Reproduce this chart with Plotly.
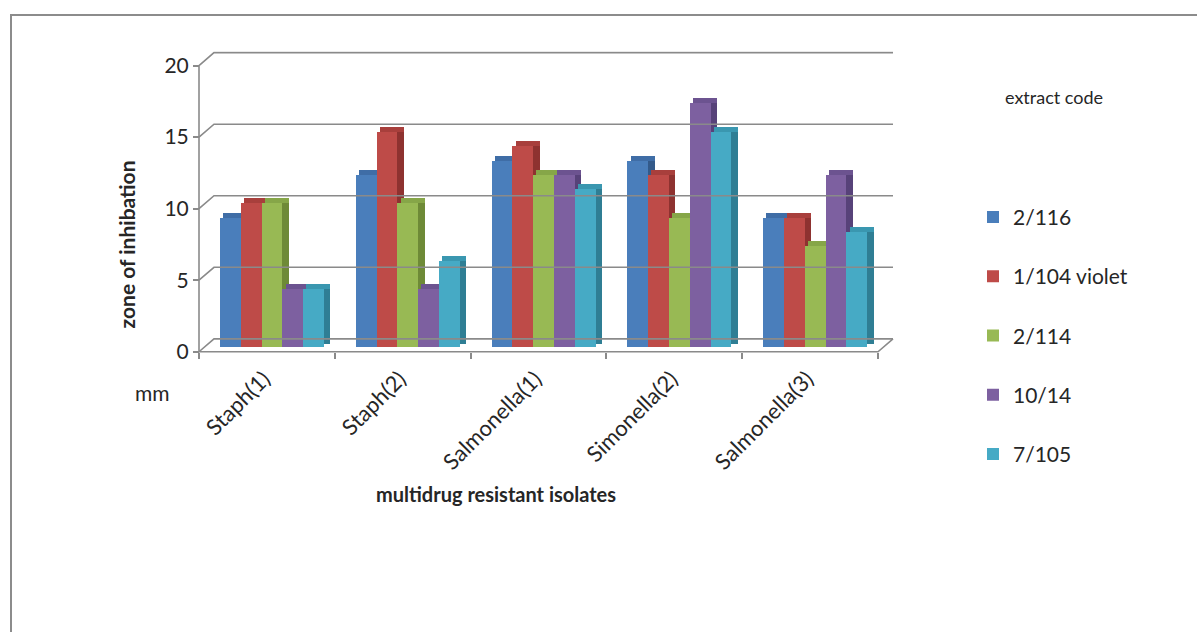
import plotly.graph_objects as go

# ---- data ----
categories = ["Staph(1)", "Staph(2)", "Salmonella(1)", "Simonella(2)", "Salmonella(3)"]
series_names = ["2/116", "1/104 violet", "2/114", "10/14", "7/105"]
s_2_116 = [9, 12, 13, 13, 9]
s_1_104 = [10, 15, 14, 12, 9]
s_2_114 = [10, 10, 12, 9, 7]
s_10_14 = [4, 4, 12, 17, 12]
s_7_105 = [4, 6, 11, 15, 8]
y_ticks = [0, 5, 10, 15, 20]

series_values = [s_2_116, s_1_104, s_2_114, s_10_14, s_7_105]
front_cols = ["#4A7EBB", "#BE4B48", "#98B954", "#7D60A0", "#46AAC5"]
top_cols = ["#3F6DA6", "#A83F3C", "#86A648", "#6C5390", "#3A97B0"]
side_cols = ["#335A8A", "#8E3230", "#6E8A37", "#574279", "#2F7E94"]

W, H = 1197, 632
FONT = "Lato"
GRID = "#8a8a8a"
TXT = "#262626"

# pixel geometry of the front plane
PX_X0, PX_X1 = 199, 878      # front left / right edges of the category range
PX_Y0, UY = 354, 14.4        # pixel of value 0, pixels per unit
n = len(categories)
UX = (PX_X1 - PX_X0) / n

xr = [-0.6, n - 0.5 + 0.15]
yr = [-0.5, 21.0]
dom_x = [(PX_X0 + (xr[0] + 0.5) * UX) / W, (PX_X0 + (xr[1] + 0.5) * UX) / W]
dom_y = [1 - (PX_Y0 - yr[0] * UY) / H, 1 - (PX_Y0 - yr[1] * UY) / H]

# depth offsets (units)
DX, DY = 15 / UX, 13 / UY          # back wall offset
SX, SY = 5.8 / UX, 5.0 / UY        # bar row offset (mid depth)
BD, BDY = 6.5 / UX, 5.0 / UY       # bar 3D depth
BW = 20.8 / UX                     # bar front width
G0 = -52.3 / UX                    # group start relative to category centre

fig = go.Figure()

# walls and floor lines
left = -0.5
right = n - 0.5
lx, ly = [], []
for v in y_ticks:
    lx += [left, left + DX, right + DX, None]
    ly += [v, v + DY, v + DY, None]
lx += [left, left, None, left, right, right + DX, None]
ly += [0, y_ticks[-1], None, 0, 0, DY, None]
fig.add_trace(go.Scatter(x=lx, y=ly, mode="lines", line=dict(color=GRID, width=1.6),
                         showlegend=False, hoverinfo="skip"))

xs = list(range(n))
for i, (name, vals) in enumerate(zip(series_names, series_values)):
    off = G0 + i * BW + SX
    # side face
    fig.add_trace(go.Bar(x=xs, y=vals, base=[SY + BDY / 2] * n, offset=off + BW, width=BD,
                         marker=dict(color=side_cols[i], line=dict(width=0)),
                         showlegend=False, hoverinfo="skip"))
    # top face
    fig.add_trace(go.Bar(x=xs, y=[BDY] * n, base=[v + SY for v in vals], offset=off + BD / 2,
                         width=BW + BD / 2,
                         marker=dict(color=top_cols[i], line=dict(width=0)),
                         showlegend=False, hoverinfo="skip"))
    # front face
    fig.add_trace(go.Bar(x=xs, y=vals, base=[SY] * n, offset=off, width=BW, name=name,
                         legendgroup=name,
                         marker=dict(color=front_cols[i], line=dict(width=0))))

fig.update_layout(
    width=W, height=H, margin=dict(l=0, r=0, t=0, b=0),
    paper_bgcolor="white", plot_bgcolor="rgba(0,0,0,0)",
    barmode="overlay", bargap=0,
    font=dict(family=FONT, size=21, color=TXT),
    showlegend=True,
    legend=dict(x=973 / W, y=1 - 198 / H, xanchor="left", yanchor="top",
                font=dict(size=21, color=TXT), tracegroupgap=29,
                bgcolor="rgba(0,0,0,0)", itemwidth=30),
    xaxis=dict(domain=dom_x, range=xr, showgrid=False, zeroline=False, showline=False,
               tickmode="array", tickvals=xs, ticktext=categories, tickangle=-45,
               ticks="", anchor="free", position=1 - PX_Y0 / H,
               ticklabelshift=-3, ticklabelstandoff=9,
               tickfont=dict(size=22, family=FONT, color=TXT),
               minor=dict(tickvals=[k - 0.5 for k in range(n + 1)], ticks="outside",
                          ticklen=6, tickcolor=GRID, tickwidth=1.5, showgrid=False)),
    yaxis=dict(domain=dom_y, range=yr, showgrid=False, zeroline=False, showline=False,
               tickmode="array", tickvals=y_ticks, ticks="outside", ticklen=6,
               tickcolor=GRID, tickwidth=1.5, anchor="free", position=PX_X0 / W,
               tickfont=dict(size=21, family=FONT, color=TXT)),
    shapes=[dict(type="rect", xref="paper", yref="paper", x0=11 / W, x1=1.02,
                 y0=-0.02, y1=1 - 15 / H, line=dict(color="#8c8c8c", width=2))],
    annotations=[
        dict(text="<b>zone of inhibation</b>", xref="paper", yref="paper",
             x=126 / W, y=1 - 246 / H, xanchor="center", yanchor="middle",
             showarrow=False, textangle=-90,
             font=dict(size=21, family=FONT, color=TXT)),
        dict(text="mm", xref="paper", yref="paper", x=152 / W, y=1 - 395 / H,
             xanchor="center", yanchor="middle",
             showarrow=False, font=dict(size=21, family=FONT, color=TXT)),
        dict(text="<b>multidrug resistant isolates</b>", xref="paper", yref="paper",
             x=496 / W, y=1 - 497 / H, xanchor="center", yanchor="middle",
             showarrow=False,
             font=dict(size=20, family=FONT, color=TXT)),
        dict(text="extract code", xref="paper", yref="paper", x=1003 / W, y=1 - 98 / H,
             xanchor="left", yanchor="middle", showarrow=False,
             font=dict(size=18, family=FONT, color=TXT)),
    ],
)

fig.write_html("out.html")
